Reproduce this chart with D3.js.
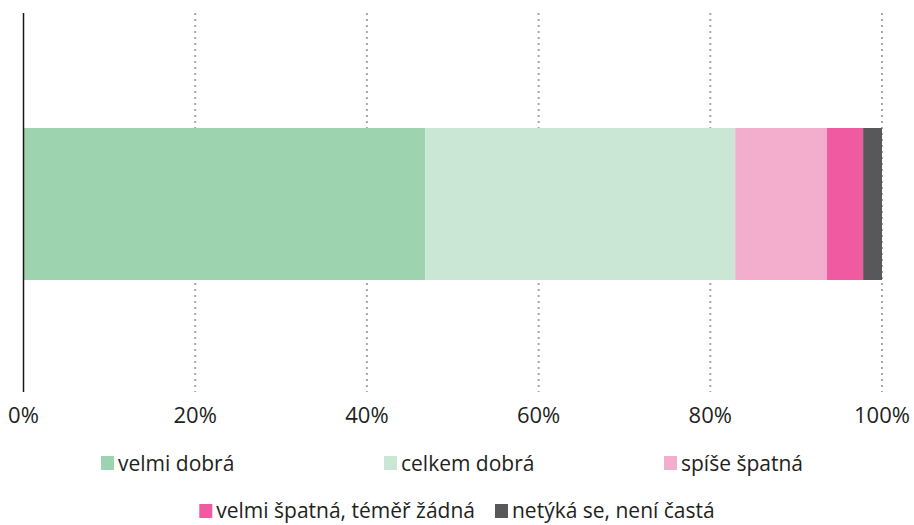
<!doctype html>
<html>
<head>
<meta charset="utf-8">
<style>
  body { margin: 0; background: #fff; }
  svg { font-family: "Open Sans", sans-serif; }
</style>
</head>
<body>
<div id="chart"></div>
<script src="https://d3js.org/d3.v7.min.js"></script>
<script>
const categories = ["velmi dobrá", "celkem dobrá", "spíše špatná", "velmi špatná, téměř žádná", "netýká se, není častá"];
const values = [46.8, 36.1, 10.7, 4.2, 2.2];
const colors = ["#9dd3ae", "#cae7d5", "#f4aecd", "#ef5aa0", "#58585a"];
const ticks = [0, 20, 40, 60, 80, 100];

const W = 914, H = 525;
const svg = d3.select("#chart").append("svg").attr("width", W).attr("height", H);

const x = d3.scaleLinear().domain([0, 100]).range([23.5, 882]);
const plotTop = 13, plotBottom = 392;
const barTop = 128, barBottom = 280;

// stacked segments
let acc = 0;
const segs = values.map((v, i) => { const s = {x0: acc, x1: acc + v, c: colors[i]}; acc += v; return s; });

// gridlines
svg.append("g").selectAll("line")
  .data(ticks.slice(1))
  .enter().append("line")
  .attr("x1", d => x(d)).attr("x2", d => x(d))
  .attr("y1", plotTop).attr("y2", plotBottom)
  .attr("stroke", "#a6a6a6")
  .attr("stroke-width", 2)
  .attr("stroke-dasharray", "2,4");

svg.append("g").selectAll("rect")
  .data(segs)
  .enter().append("rect")
  .attr("x", d => x(d.x0))
  .attr("width", d => x(d.x1) - x(d.x0))
  .attr("y", barTop)
  .attr("height", barBottom - barTop)
  .attr("fill", d => d.c);

// axis line
svg.append("line")
  .attr("x1", x(0)).attr("x2", x(0))
  .attr("y1", plotTop).attr("y2", plotBottom)
  .attr("stroke", "#1a1a1a").attr("stroke-width", 1.5);

// tick labels
svg.append("g").selectAll("text")
  .data(ticks)
  .enter().append("text")
  .attr("x", d => x(d))
  .attr("y", 423)
  .attr("text-anchor", "middle")
  .attr("font-size", 22)
  .attr("fill", "#231f20")
  .text(d => d + "%");

// legend
const rows = [[0, 1, 2], [3, 4]];
const legend = svg.append("g");
const fs = 21;
// row 1: fixed columns
const col1 = [101, 384, 664];
rows[0].forEach((k, j) => {
  legend.append("rect").attr("x", col1[j]).attr("y", 456).attr("width", 13).attr("height", 14).attr("fill", colors[k]);
  legend.append("text").attr("x", col1[j] + 17).attr("y", 471).attr("font-size", fs).attr("fill", "#231f20").text(categories[k]);
});
// row 2: centered flow
const items = rows[1].map(k => {
  const t = legend.append("text").attr("y", 518).attr("font-size", fs).attr("fill", "#231f20").text(categories[k]);
  const r = legend.append("rect").attr("y", 504).attr("width", 13).attr("height", 14).attr("fill", colors[k]);
  return {t, r, w: 17 + t.node().getComputedTextLength()};
});
const gap = 20;
let total = d3.sum(items, d => d.w) + gap * (items.length - 1);
let cx = (W - total) / 2;
items.forEach(it => {
  it.r.attr("x", cx);
  it.t.attr("x", cx + 17);
  cx += it.w + gap;
});
</script>
</body>
</html>
